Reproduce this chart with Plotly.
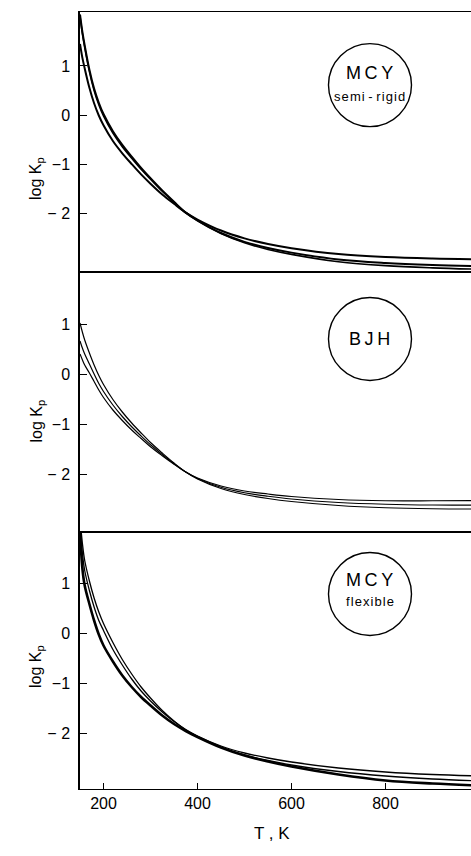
import plotly.graph_objects as go
from plotly.subplots import make_subplots

# ---- data ----
T = [150, 155, 160, 170, 180, 190, 200, 220, 240, 260, 280, 300, 325, 350, 375, 400,
     450, 500, 550, 600, 700, 800, 900, 1000]

# MCY semi-rigid
semi_rigid_a = [1.45, 1.17, 0.95, 0.555, 0.24, -0.01, -0.21, -0.53, -0.78, -1.0, -1.21, -1.40,
                -1.62, -1.81, -1.99, -2.13, -2.355, -2.515, -2.63, -2.715, -2.835, -2.895, -2.925, -2.94]
semi_rigid_b = [2.05, 1.70, 1.42, 0.925, 0.54, 0.25, 0.02, -0.33, -0.61, -0.85, -1.08, -1.29,
                -1.54, -1.77, -1.99, -2.15, -2.405, -2.585, -2.71, -2.805, -2.945, -3.015, -3.055, -3.08]
semi_rigid_c = [2.01, 1.66, 1.38, 0.885, 0.50, 0.21, -0.02, -0.37, -0.645, -0.88, -1.105, -1.31,
                -1.555, -1.78, -1.99, -2.155, -2.415, -2.605, -2.74, -2.84, -2.99, -3.07, -3.115, -3.145]

# BJH
bjh_a = [0.40, 0.285, 0.18, 0.02, -0.15, -0.32, -0.47, -0.72, -0.93, -1.12, -1.29, -1.455,
         -1.635, -1.805, -1.96, -2.08, -2.24, -2.34, -2.40, -2.45, -2.51, -2.535, -2.535, -2.53]
bjh_b = [0.66, 0.52, 0.40, 0.20, 0.0, -0.19, -0.35, -0.62, -0.85, -1.055, -1.24, -1.415,
         -1.61, -1.795, -1.96, -2.09, -2.265, -2.375, -2.445, -2.50, -2.57, -2.605, -2.62, -2.62]
bjh_c = [1.02, 0.84, 0.68, 0.42, 0.18, -0.03, -0.21, -0.51, -0.76, -0.98, -1.18, -1.37,
         -1.58, -1.78, -1.96, -2.10, -2.29, -2.41, -2.49, -2.55, -2.63, -2.675, -2.695, -2.70]

# MCY flexible
flex_a = [2.05, 1.30, 0.95, 0.58, 0.25, -0.03, -0.25, -0.57, -0.85, -1.08, -1.28, -1.45,
          -1.65, -1.82, -1.96, -2.08, -2.29, -2.45, -2.57, -2.67, -2.83, -2.95, -3.01, -3.05]
flex_b = [2.15, 1.60, 1.25, 0.85, 0.52, 0.25, 0.05, -0.33, -0.64, -0.92, -1.16, -1.36,
          -1.58, -1.77, -1.93, -2.06, -2.26, -2.40, -2.50, -2.58, -2.70, -2.78, -2.83, -2.86]
flex_c = [2.30, 1.80, 1.45, 1.04, 0.70, 0.42, 0.19, -0.19, -0.53, -0.82, -1.08, -1.30,
          -1.55, -1.76, -1.94, -2.08, -2.29, -2.44, -2.55, -2.64, -2.77, -2.86, -2.92, -2.96]

y_tickvals = [-2, -1, 0, 1]
y_ticktext = ["\u2212 2", "\u22121", "0", "1"]
x_tickvals = [200, 400, 600, 800]
x_ticktext = ["200", "400", "600", "800"]

HS = "\u200a"
panel_labels = [
    ("M\u2009C\u2009Y", HS.join("semi") + " - " + HS.join("rigid")),
    ("B\u2009J\u2009H", None),
    ("M\u2009C\u2009Y", HS.join("flexible")),
]

FONT = "Liberation Sans, Arial, sans-serif"

fig = make_subplots(rows=3, cols=1, shared_xaxes=True, vertical_spacing=0)

series = [
    (1, semi_rigid_a, 2.0), (1, semi_rigid_b, 2.0), (1, semi_rigid_c, 1.6),
    (2, bjh_a, 1.2), (2, bjh_b, 1.2), (2, bjh_c, 1.2),
    (3, flex_a, 2.6), (3, flex_b, 1.3), (3, flex_c, 1.3),
]
for row, vals, w in series:
    fig.add_trace(go.Scatter(x=T, y=vals, mode="lines",
                             line=dict(color="black", width=w, shape="spline", smoothing=1.0),
                             showlegend=False, hoverinfo="skip"), row=row, col=1)

# layout geometry
W, H = 471, 856
ml, mr, mt, mb = 80, 0, 12, 67
ph = H - mt - mb
d3 = (789 - 532) / ph
d2 = (789 - 272) / ph
domains = {1: [d2, 1.0], 2: [d3, d2], 3: [0.0, d3]}
yranges = {1: [-3.2, 2.1], 2: [-3.16, 2.04], 3: [-3.12, 2.02]}
xrange_ = [150, 150 + (W - ml) * 200 / 94]

for row in (1, 2, 3):
    sfx = "" if row == 1 else str(row)
    fig.layout["yaxis" + sfx].update(
        domain=domains[row], range=yranges[row], tickvals=y_tickvals, ticktext=y_ticktext,
        ticks="inside", ticklen=7, tickwidth=1.2, tickcolor="black",
        showline=True, linecolor="black", linewidth=1.5, mirror=False,
        showgrid=False, zeroline=False, ticklabelstandoff=5,
        tickfont=dict(family=FONT, size=16, color="black"))
    fig.layout["xaxis" + sfx].update(
        range=xrange_, showline=True, linecolor="black", linewidth=1.1, mirror=True,
        showgrid=False, zeroline=False,
        ticks="inside" if row == 3 else "", ticklen=6, tickwidth=1.2, tickcolor="black",
        tickvals=x_tickvals, ticktext=x_ticktext, showticklabels=(row == 3),
        tickfont=dict(family=FONT, size=16, color="black"))

# circles with labels
circle_centers = {1: (767, 0.61), 2: (767, 0.70), 3: (767, 0.78)}
annotations = []
shapes = []
for row in (1, 2, 3):
    sfx = "" if row == 1 else str(row)
    cx, cy = circle_centers[row]
    shapes.append(dict(type="circle", xref="x" + sfx, yref="y" + sfx,
                       xsizemode="pixel", ysizemode="pixel", xanchor=cx, yanchor=cy,
                       x0=-41.5, x1=41.5, y0=-41.5, y1=41.5,
                       line=dict(color="black", width=1.4), fillcolor="rgba(0,0,0,0)"))
    main, sub = panel_labels[row - 1]
    if sub is None:
        annotations.append(dict(x=cx, y=cy, xref="x" + sfx, yref="y" + sfx, text=main,
                                showarrow=False, font=dict(family=FONT, size=18, color="black")))
    else:
        up, dn = (12, -11) if row == 1 else (14, -8)
        annotations.append(dict(x=cx, y=cy, xref="x" + sfx, yref="y" + sfx, text=main, yshift=up,
                                showarrow=False, font=dict(family=FONT, size=18, color="black")))
        annotations.append(dict(x=cx, y=cy, xref="x" + sfx, yref="y" + sfx, text=sub, yshift=dn,
                                showarrow=False, font=dict(family=FONT, size=13, color="black")))

# y axis titles
for ypix in (155, 421, 690):
    annotations.append(dict(x=(25 - ml) / (W - ml - mr), y=1 - (ypix - mt) / ph, xref="paper", yref="paper",
                            text="log K<sub>p</sub>", textangle=-90, showarrow=False,
                            font=dict(family=FONT, size=16, color="black")))
# x axis title
annotations.append(dict(x=(272 - ml) / (W - ml - mr), y=1 - (845 - mt) / ph, xref="paper", yref="paper",
                        text="T , K", showarrow=False, font=dict(family=FONT, size=17, color="black")))

fig.update_layout(width=W, height=H, margin=dict(l=ml, r=mr, t=mt, b=mb),
                  plot_bgcolor="white", paper_bgcolor="white",
                  shapes=shapes, annotations=annotations)

fig.write_html("out.html", config={"displayModeBar": False},
               post_script="document.body.style.margin='0';document.body.style.overflow='hidden';")
